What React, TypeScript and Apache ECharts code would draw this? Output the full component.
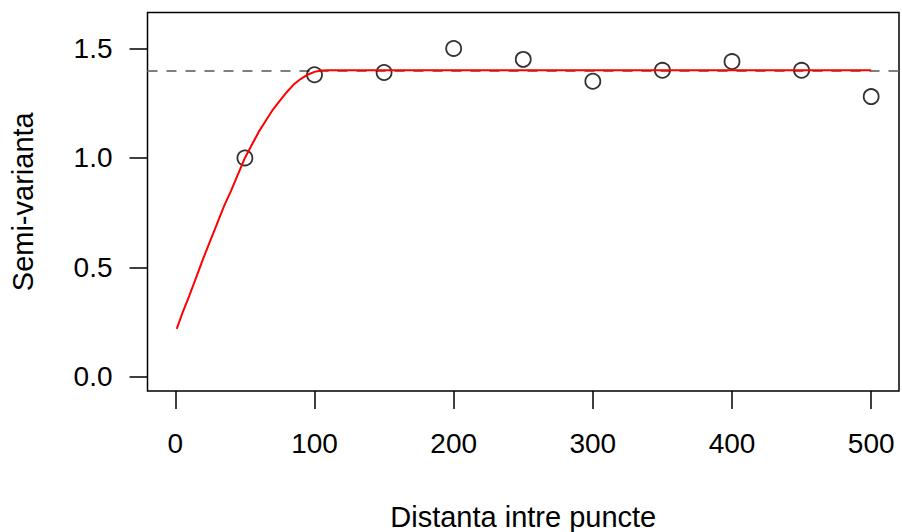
import React, { useEffect, useRef } from "react";
import * as echarts from "echarts";

const lagDistances = [50, 100, 150, 200, 250, 300, 350, 400, 450, 500];
const semivariance = [1.0, 1.38, 1.39, 1.5, 1.45, 1.35, 1.4, 1.44, 1.4, 1.28];

const modelDistances = [1, 5, 10, 15, 20, 25, 30, 35, 40, 45, 50, 55, 60, 65, 70, 75, 80, 85, 90, 95, 100, 105, 110, 500];
const modelValues = [0.22, 0.29, 0.37, 0.455, 0.54, 0.62, 0.7, 0.78, 0.85, 0.925, 1.0, 1.06, 1.12, 1.17, 1.22, 1.26, 1.3, 1.335, 1.36, 1.38, 1.393, 1.399, 1.4, 1.4];

const sill = 1.4;
const xTicks = [0, 100, 200, 300, 400, 500];
const yTicks = [0, 0.5, 1.0, 1.5];
const xTitle = "Distanta intre puncte";
const yTitle = "Semi-varianta";

const FONT = "'Liberation Sans', Arial, Helvetica, sans-serif";

export default function App() {
  const ref = useRef<HTMLDivElement>(null);
  useEffect(() => {
    if (!ref.current) return;
    const chart = echarts.init(ref.current, undefined, { renderer: "svg" });
    const gridLeft = 147.5;
    const gridTop = 12.5;
    const gridRight = 899;
    const gridBottom = 391;
    chart.setOption({
      animation: false,
      backgroundColor: "#ffffff",
      textStyle: { fontFamily: FONT },
      grid: {
        left: gridLeft,
        top: gridTop,
        width: gridRight - gridLeft,
        height: gridBottom - gridTop,
        show: true,
        borderColor: "#000",
        borderWidth: 1.5,
        backgroundColor: "transparent",
      },
      xAxis: {
        type: "value",
        min: -20,
        max: 520,
        axisLine: { show: false, onZero: false },
        splitLine: { show: false },
        axisTick: {
          show: true,
          inside: false,
          length: 18,
          lineStyle: { color: "#000", width: 1.5 },
          customValues: xTicks,
        },
        axisLabel: {
          show: true,
          margin: 38,
          fontSize: 28,
          color: "#000",
          fontFamily: FONT,
          customValues: xTicks,
          formatter: (v: number) => String(v),
        },
      },
      yAxis: {
        type: "value",
        min: -0.064,
        max: 1.664,
        axisLine: { show: false, onZero: false },
        splitLine: { show: false },
        axisTick: {
          show: true,
          inside: false,
          length: 18,
          lineStyle: { color: "#000", width: 1.5 },
          customValues: yTicks,
        },
        axisLabel: {
          show: true,
          margin: 35,
          fontSize: 28,
          color: "#000",
          fontFamily: FONT,
          customValues: yTicks,
          formatter: (v: number) => v.toFixed(1),
        },
      },
      series: [
        {
          type: "line",
          data: [],
          silent: true,
          z: 1,
          markLine: {
            symbol: "none",
            silent: true,
            z: 1,
            label: { show: false },
            lineStyle: { color: "#7f7f7f", type: [10, 9], width: 2 },
            data: [{ yAxis: sill }],
          },
        },
        {
          type: "scatter",
          z: 2,
          data: lagDistances.map((d, i) => [d, semivariance[i]]),
          symbol: "circle",
          symbolSize: 15,
          itemStyle: { color: "transparent", borderColor: "#000", borderWidth: 1.8 },
        },
        {
          type: "line",
          z: 3,
          data: modelDistances.map((d, i) => [d, modelValues[i]]),
          showSymbol: false,
          smooth: false,
          lineStyle: { color: "#ff0000", width: 2 },
        },
      ],
      graphic: [
        {
          type: "text",
          x: 23,
          y: (gridTop + gridBottom) / 2,
          rotation: Math.PI / 2,
          style: {
            text: yTitle,
            fontSize: 29,
            fontFamily: FONT,
            fill: "#000",
            textAlign: "center",
            textVerticalAlign: "middle",
          },
        },
        {
          type: "text",
          x: (gridLeft + gridRight) / 2,
          y: 517,
          style: {
            text: xTitle,
            fontSize: 29,
            fontFamily: FONT,
            fill: "#000",
            textAlign: "center",
            textVerticalAlign: "middle",
          },
        },
      ],
    });
    return () => chart.dispose();
  }, []);
  return (
    <div
      ref={ref}
      style={{ position: "absolute", left: 0, top: 0, width: 902, height: 532 }}
    />
  );
}
